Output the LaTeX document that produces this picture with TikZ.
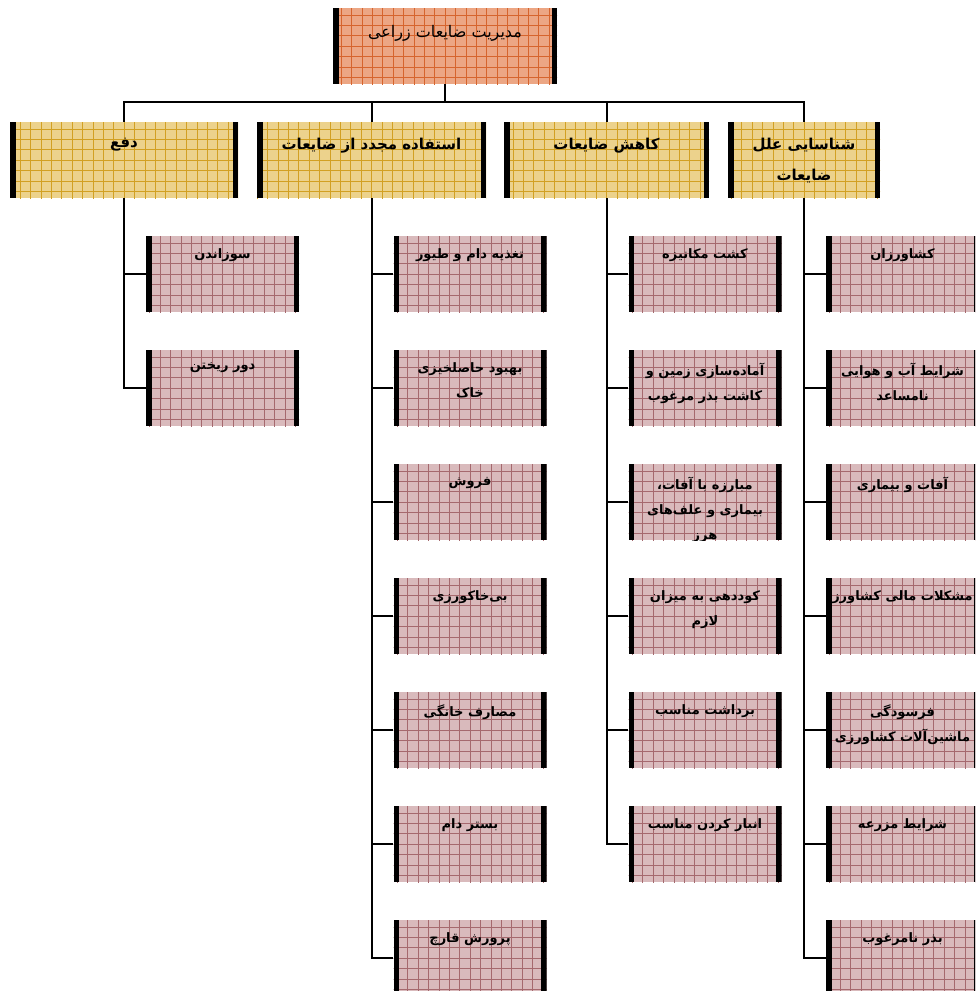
\documentclass[tikz,border=0pt]{standalone}
\usepackage{fontspec}
\TeXXeTstate=1
\newfontfamily\arabicfont[Script=Arabic]{DejaVu Sans}
\newcommand{\ar}[1]{\beginR #1\endR}
\definecolor{topfill}{RGB}{236,166,132}
\definecolor{topgrid}{RGB}{214,100,45}
\definecolor{yfill}{RGB}{236,210,140}
\definecolor{ygrid}{RGB}{210,160,35}
\definecolor{pfill}{RGB}{217,186,188}
\definecolor{pgrid}{RGB}{165,105,110}
\newcommand{\gridpic}[1]{%
  \draw[#1, line width=0.6pt] ([xshift=-12pt,yshift=-12pt]path picture bounding box.south west) grid[step=10.4pt] ([xshift=12pt,yshift=12pt]path picture bounding box.north east);
  \fill[black] (path picture bounding box.south west) rectangle ([xshift=5.5pt]path picture bounding box.north west);
  \fill[black] (path picture bounding box.south east) rectangle ([xshift=-5.5pt]path picture bounding box.north east);}
\tikzset{
  boxbase/.style={rectangle, inner sep=0pt, minimum height=76pt},
  topbox/.style={boxbase, minimum width=224pt, fill=topfill, path picture={\gridpic{topgrid}}},
  lvlbox/.style={boxbase, fill=yfill, path picture={\gridpic{ygrid}}},
  leafbox/.style={boxbase, minimum width=153pt, fill=pfill, path picture={\gridpic{pgrid}}},
  toptext/.style={anchor=north, inner sep=0pt, align=center, font=\arabicfont\fontsize{16}{26}\selectfont},
  lvltext/.style={anchor=north, inner sep=0pt, align=center, font=\arabicfont\bfseries\fontsize{15}{31}\selectfont},
  leaftext/.style={anchor=north, inner sep=0pt, align=center, font=\arabicfont\bfseries\fontsize{13}{25}\selectfont},
  conn/.style={draw=black, line width=2pt},
}
\newcommand{\leaf}[4]{%
  \node[leafbox] (#1) at (#2,#3) {};
  \begin{scope}
    \clip (#1.south west) rectangle (#1.north east);
    \node[leaftext] (#1t) at ([yshift=-13pt]#1.north) {#4};
  \end{scope}}
\begin{document}
\begin{tikzpicture}[x=1pt,y=-1pt]
\useasboundingbox (0,0) rectangle (975,991);
\fill[white] (0,0) rectangle (975,991);
\clip (0,0) rectangle (975,991);
% top
\node[topbox] (T) at (445,46) {};
\node[toptext] (Tt) at ([yshift=-17pt]T.north) {\ar{مدیریت ضایعات زراعی}};
% level 2
\node[lvlbox, minimum width=228pt] (A) at (124,160) {};
\node[lvlbox, minimum width=229pt] (B) at (371.5,160) {};
\node[lvlbox, minimum width=205pt] (C) at (606.5,160) {};
\node[lvlbox, minimum width=152pt] (D) at (804,160) {};
\node[lvltext] (At) at ([yshift=-16pt]A.north) {\ar{دفع}};
\node[lvltext] (Bt) at ([yshift=-16pt]B.north) {\ar{استفاده مجدد از ضایعات}};
\node[lvltext] (Ct) at ([yshift=-16pt]C.north) {\ar{کاهش ضایعات}};
\node[lvltext] (Dt) at ([yshift=-16pt]D.north) {\ar{شناسایی علل}\\\ar{ضایعات}};
% hub connectors
\coordinate (hub) at (T.south |- 0,102);
\draw[conn] (T.south) -- (hub);
\draw[conn] (hub) -| (A.north);
\draw[conn] (hub) -| (B.north);
\draw[conn] (hub) -| (C.north);
\draw[conn] (hub) -| (D.north);
% column A
\leaf{a1}{222.5}{274}{\ar{سوزاندن}}
\leaf{a2}{222.5}{388}{\ar{دور ریختن}}
% column B
\leaf{b1}{470}{274}{\ar{تغذیه دام و طیور}}
\leaf{b2}{470}{388}{\ar{بهبود حاصلخیزی}\\\ar{خاک}}
\leaf{b3}{470}{502}{\ar{فروش}}
\leaf{b4}{470}{616}{\ar{بی‌خاکورزی}}
\leaf{b5}{470}{730}{\ar{مصارف خانگی}}
\leaf{b6}{470}{844}{\ar{بستر دام}}
\leaf{b7}{470}{958}{\ar{پرورش قارچ}}
% column C
\leaf{c1}{705}{274}{\ar{کشت مکانیزه}}
\leaf{c2}{705}{388}{\ar{آماده‌سازی زمین و}\\\ar{کاشت بذر مرغوب}}
\leaf{c3}{705}{502}{\ar{مبارزه با آفات،}\\\ar{بیماری و علف‌های}\\\ar{هرز}}
\leaf{c4}{705}{616}{\ar{کوددهی به میزان}\\\ar{لازم}}
\leaf{c5}{705}{730}{\ar{برداشت مناسب}}
\leaf{c6}{705}{844}{\ar{انبار کردن مناسب}}
% column D
\leaf{d1}{902.5}{274}{\ar{کشاورزان}}
\leaf{d2}{902.5}{388}{\ar{شرایط آب و هوایی}\\\ar{نامساعد}}
\leaf{d3}{902.5}{502}{\ar{آفات و بیماری}}
\leaf{d4}{902.5}{616}{\ar{مشکلات مالی کشاورز}}
\leaf{d5}{902.5}{730}{\ar{فرسودگی}\\\ar{ماشین‌آلات کشاورزی}}
\leaf{d6}{902.5}{844}{\ar{شرایط مزرعه}}
\leaf{d7}{902.5}{958}{\ar{بذر نامرغوب}}
% spines
\foreach \c in {a1,a2} \draw[conn] (A.south) |- (\c.west);
\foreach \c in {b1,b2,b3,b4,b5,b6,b7} \draw[conn] (B.south) |- (\c.west);
\foreach \c in {c1,c2,c3,c4,c5,c6} \draw[conn] (C.south) |- (\c.west);
\foreach \c in {d1,d2,d3,d4,d5,d6,d7} \draw[conn] (D.south) |- (\c.west);
\end{tikzpicture}
\end{document}
